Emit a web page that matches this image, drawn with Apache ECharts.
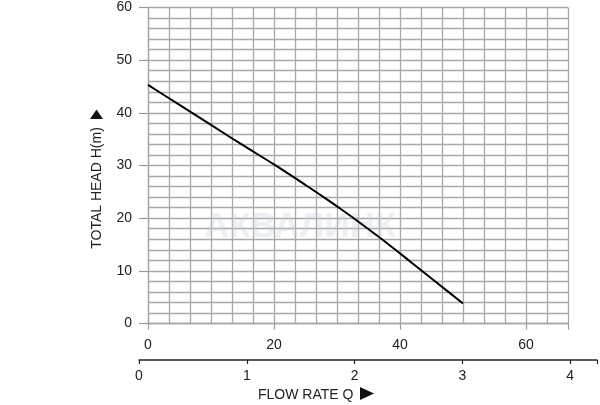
<!DOCTYPE html>
<html>
<head>
<meta charset="utf-8">
<script src="https://cdn.jsdelivr.net/npm/echarts@6/dist/echarts.min.js"></script>
<style>html,body{margin:0;padding:0;background:#fff;}#c{width:600px;height:405px;}</style>
</head>
<body>
<div id="c"></div>
<script>
// Data
const flowM3h = [0, 5, 10, 15, 20, 25, 28, 31, 34, 38, 42, 46, 50];
const headM   = [45.3, 41.5, 37.7, 33.9, 30.2, 26.3, 23.9, 21.4, 18.8, 15.2, 11.4, 7.6, 3.8];
const topTickLabels = [0, 20, 40, 60];
const bottomTickLabels = [0, 1, 2, 3, 4];
const yTickLabels = [0, 10, 20, 30, 40, 50, 60];
const yTitle = 'TOTAL HEAD H(m)';
const xTitle = 'FLOW RATE Q';

const chart = echarts.init(document.getElementById('c'), null, {renderer: 'canvas'});
const FONT = 'Liberation Sans, Arial, sans-serif';
const gridColor = '#a8a8a8';

const option = {
  animation: false,
  backgroundColor: '#fff',
  grid: [
    {left: 148, right: 32, top: 7.5, bottom: 81.5},
    {left: 139, right: 0, top: 300, bottom: 45}
  ],
  xAxis: [
    { // minor split lines
      gridIndex: 0, type: 'value', min: 0, max: 200/3, interval: 10/3,
      axisLine: {show: false}, axisTick: {show: false}, axisLabel: {show: false},
      splitLine: {show: true, lineStyle: {color: gridColor, width: 1.3}}
    },
    { // labelled axis
      gridIndex: 0, type: 'value', min: 0, max: 200/3, interval: 20, position: 'bottom',
      axisLine: {show: true, onZero: false, lineStyle: {color: gridColor, width: 1.3}},
      axisTick: {show: true, length: 6, lineStyle: {color: '#999', width: 1.2}},
      axisLabel: {show: true, margin: 15, color: '#222', fontSize: 14, fontFamily: FONT,
        formatter: v => topTickLabels.includes(Math.round(v)) && Math.abs(v - Math.round(v)) < 1e-6 ? String(Math.round(v)) : ''},
      splitLine: {show: false}
    },
    {
      gridIndex: 1, type: 'value', min: 0, max: 461/108.5, interval: 1, position: 'bottom',
      axisLine: {show: true, onZero: false, lineStyle: {color: '#2a2222', width: 1.5}},
      axisTick: {show: true, length: 4, lineStyle: {color: '#2a2222', width: 1.2}},
      axisLabel: {show: true, margin: 9, color: '#222', fontSize: 14, fontFamily: FONT,
        formatter: v => (bottomTickLabels.includes(Math.round(v)) && Math.abs(v - Math.round(v)) < 1e-6) ? String(Math.round(v)) : ''},
      splitLine: {show: false}
    }
  ],
  yAxis: [
    {
      gridIndex: 0, type: 'value', min: 0, max: 60, interval: 10,
      axisLine: {show: true, lineStyle: {color: gridColor, width: 1.3}},
      axisTick: {show: true, length: 9, lineStyle: {color: '#999', width: 1.2}},
      axisLabel: {show: true, margin: 16, color: '#222', fontSize: 14, fontFamily: FONT,
        formatter: v => yTickLabels.includes(v) ? String(v) : ''},
      splitLine: {show: true, lineStyle: {color: gridColor, width: 1.3}},
      minorTick: {show: false, splitNumber: 5},
      minorSplitLine: {show: true, lineStyle: {color: gridColor, width: 1.3}}
    },
    {gridIndex: 1, type: 'value', show: false, min: 0, max: 1}
  ],
  graphic: [
    {type: 'text', left: 204, top: 210, z: 1,
      style: {text: 'АКВАЛИНК', fontSize: 35, fontWeight: 'bold', fontFamily: FONT, fill: 'rgba(200,212,224,0.35)'}},
    {type: 'text', x: 97, y: 188, rotation: Math.PI / 2,
      style: {text: yTitle, fontSize: 14, fontFamily: FONT, fill: '#222', textAlign: 'center', textVerticalAlign: 'middle'}},
    {type: 'polygon', shape: {points: [[90, 119], [103, 119], [96.5, 109.5]]}, style: {fill: '#111'}},
    {type: 'text', x: 258, y: 395.5,
      style: {text: xTitle, fontSize: 14, fontFamily: FONT, fill: '#222', textAlign: 'left', textVerticalAlign: 'middle'}},
    {type: 'polygon', shape: {points: [[360, 387], [360, 400], [374, 393.5]]}, style: {fill: '#111'}}
  ],
  series: [
    {
      type: 'line', xAxisIndex: 1, yAxisIndex: 0,
      data: flowM3h.map((x, i) => [x, headM[i]]),
      smooth: 0.3, symbol: 'none', z: 5,
      lineStyle: {color: '#000', width: 2}
    }
  ]
};
chart.setOption(option);
</script>
</body>
</html>
